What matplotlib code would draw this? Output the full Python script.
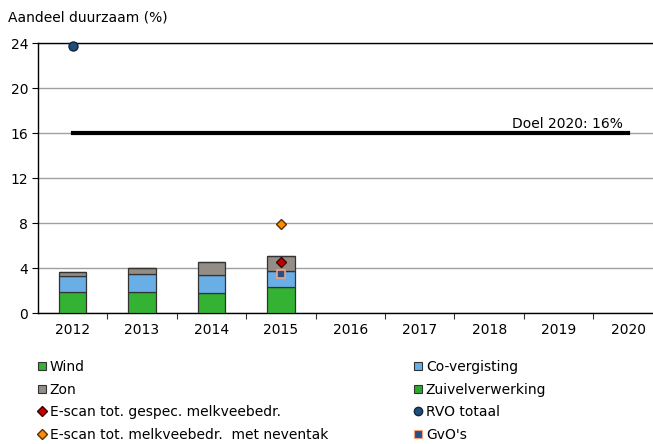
import numpy as np
import matplotlib
matplotlib.use("Agg")
import matplotlib.pyplot as plt
from matplotlib.lines import Line2D

years = ["2012", "2013", "2014", "2015", "2016", "2017", "2018", "2019", "2020"]
# alleen 2012-2015 hebben gegevens
bar_years = ["2012", "2013", "2014", "2015"]
wind = [1.88, 1.9, 1.78, 2.28]
covergisting = [1.42, 1.54, 1.62, 1.42]
zon = [0.37, 0.59, 1.13, 1.4]
zuivel = [0, 0, 0, 0]
escan_gespec = {"2015": 4.53}
escan_neventak = {"2015": 7.9}
rvo_totaal = {"2012": 23.7}
gvos = {"2015": 3.5}
doel = 16

c_wind = "#33b233"
c_cov = "#6aaee6"
c_zon = "#938d86"
c_zuivel = "#2ea82e"

plt.rcParams['font.family'] = ['DejaVu Sans']
fig = plt.figure(figsize=(6.53, 4.44), dpi=100)
ax = fig.add_axes([0.058, 0.295, 0.942, 0.608])

x = np.arange(len(years))
xb = np.array([years.index(y) for y in bar_years])
w = 0.4
edge = dict(edgecolor="#333333", linewidth=0.9)
ax.bar(xb, wind, w, color=c_wind, **edge, zorder=3)
b1 = np.array(wind)
ax.bar(xb, covergisting, w, bottom=b1, color=c_cov, **edge, zorder=3)
b2 = b1 + np.array(covergisting)
ax.bar(xb, zon, w, bottom=b2, color=c_zon, **edge, zorder=3)
b3 = b2 + np.array(zon)
ax.bar(xb, zuivel, w, bottom=b3, color=c_zuivel, **edge, zorder=3)

# doel-lijn
ax.plot([0, len(years) - 1], [doel, doel], color="black", lw=3, zorder=4)
ax.text(len(years) - 1 - 0.07, doel + 0.15, "Doel 2020: 16%", ha="right", va="bottom", fontsize=10)

def pts(d):
    return [years.index(k) for k in d], list(d.values())

px, py = pts(rvo_totaal)
ax.plot(px, py, "o", color="#1f4e79", mec="#10263f", ms=6.5, zorder=5, clip_on=False)
px, py = pts(escan_neventak)
ax.plot(px, py, "D", color="#ff8c00", mec="#5a3000", ms=5, zorder=5)
px, py = pts(gvos)
ax.plot(px, py, "s", color="#2b4f7e", mec="#f4a080", mew=1.2, ms=6, zorder=5)
px, py = pts(escan_gespec)
ax.plot(px, py, "D", color="#c00000", mec="#400000", ms=5, zorder=6)

ax.set_ylim(0, 24)
ax.set_yticks(range(0, 25, 4))
ax.set_xlim(-0.5, 8.36)
ax.set_xticks(x)
ax.set_xticklabels(years)
ax.set_xticks(np.arange(0.5, 8, 1), minor=True)
ax.tick_params(axis="x", which="major", length=0, pad=7, labelsize=10)
ax.tick_params(axis="x", which="minor", length=4, width=0.8, color="#333333")
ax.tick_params(axis="y", length=4, width=0.8, labelsize=10, pad=3)
ax.yaxis.grid(True, color="#a0a0a0", lw=1, zorder=0)
for s in ["top", "right"]:
    ax.spines[s].set_visible(False)
ax.spines["left"].set_linewidth(1)
ax.spines["bottom"].set_linewidth(1)
ax.axhline(24, color="black", lw=1, zorder=2, clip_on=False)

fig.text(0.012, 0.96, "Aandeel duurzaam (%)", fontsize=10, va="center")

def sq(c, ec="#333333"):
    return Line2D([], [], ls="none", marker="s", ms=6, mfc=c, mec=ec, mew=0.8)

h1 = [sq(c_wind), sq(c_zon),
      Line2D([], [], ls="none", marker="D", ms=5, mfc="#c00000", mec="#400000"),
      Line2D([], [], ls="none", marker="D", ms=5, mfc="#ff8c00", mec="#5a3000")]
l1 = ["Wind", "Zon", "E-scan tot. gespec. melkveebedr.", "E-scan tot. melkveebedr.  met neventak"]
h2 = [sq(c_cov), sq(c_zuivel),
      Line2D([], [], ls="none", marker="o", ms=6, mfc="#1f4e79", mec="#10263f"),
      sq("#2b4f7e", "#f4a080")]
l2 = ["Co-vergisting", "Zuivelverwerking", "RVO totaal", "GvO's"]

kw = dict(frameon=False, fontsize=10, handlelength=0.6, handletextpad=0.25,
          labelspacing=0.62, borderpad=0, borderaxespad=0, loc="upper left")
fig.legend(h1, l1, bbox_to_anchor=(0.058, 0.189), **kw)
fig.legend(h2, l2, bbox_to_anchor=(0.634, 0.189), **kw)

fig.savefig("out.png", dpi=100)
